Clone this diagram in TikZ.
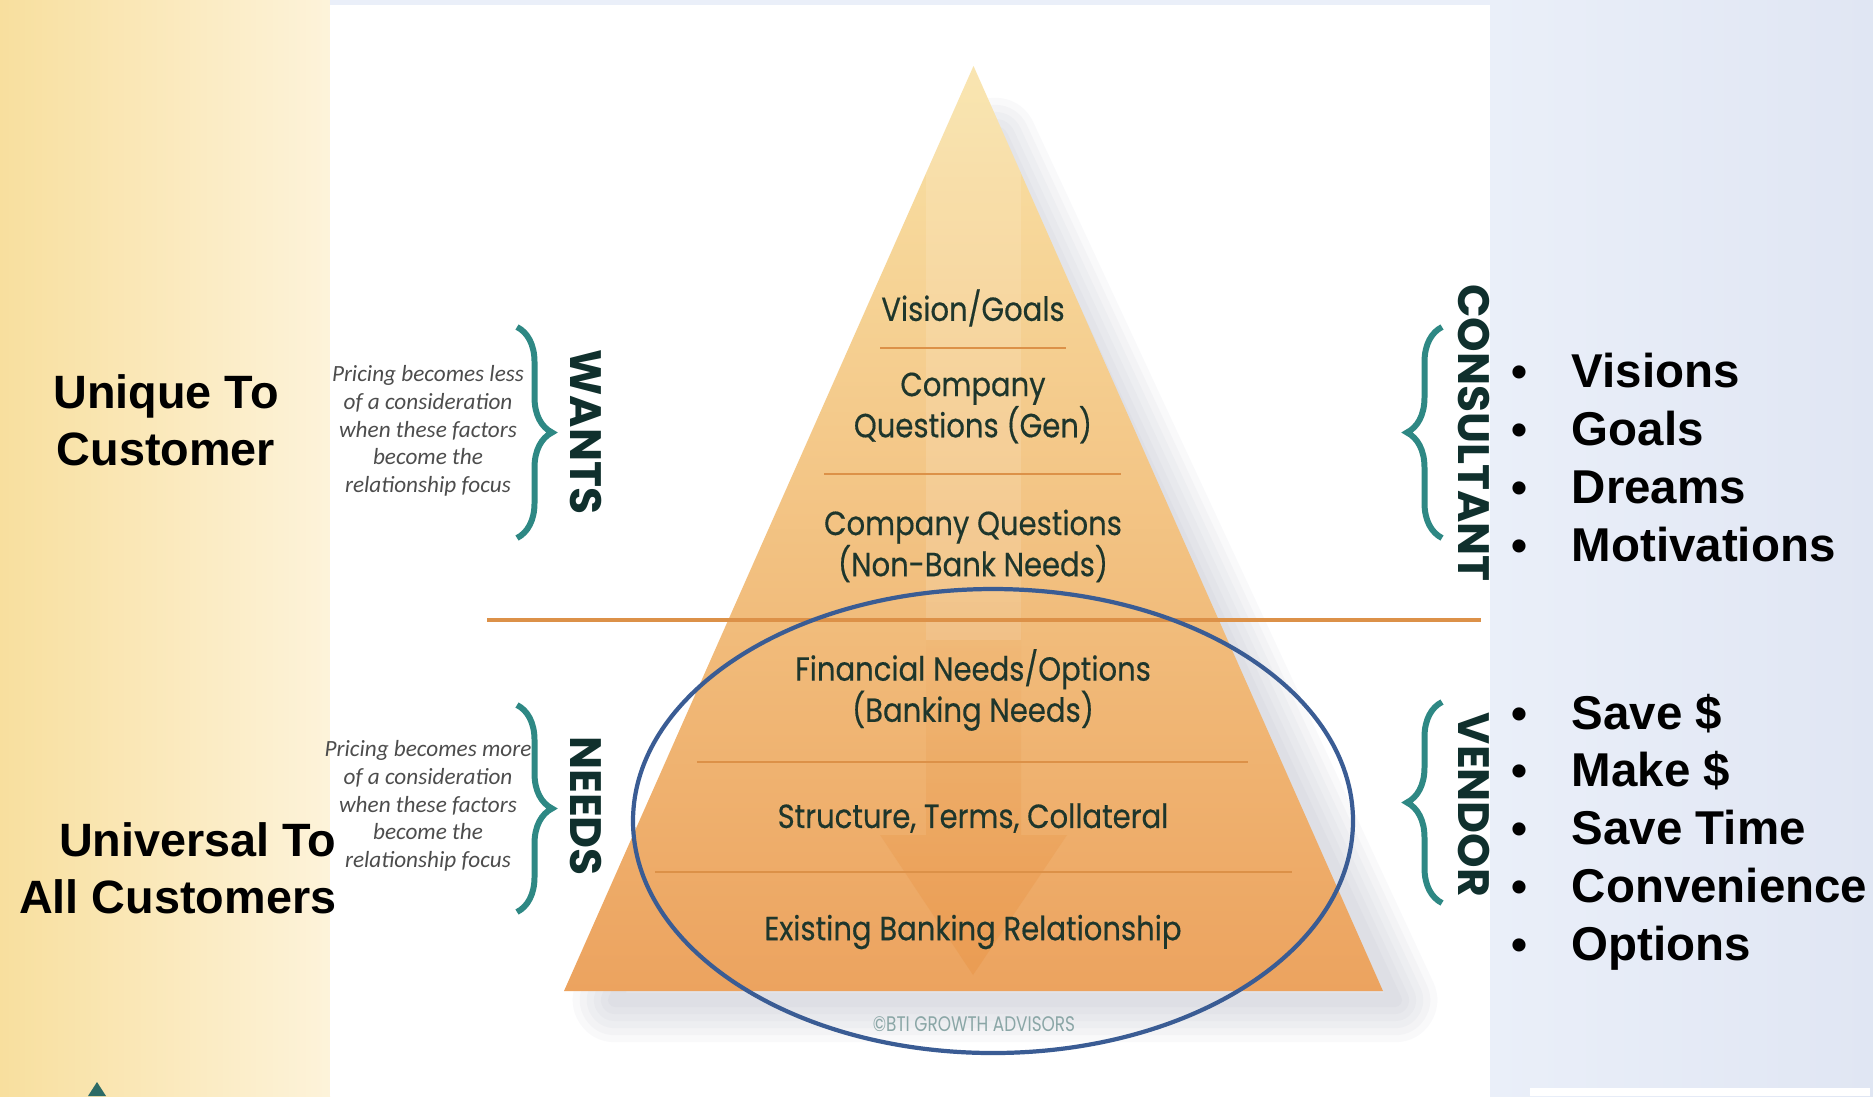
\documentclass[tikz,border=0pt]{standalone}
\usepackage{fontspec}
\setmainfont{Liberation Sans}
\newfontfamily\tierfont[FakeBold=0.4]{Poppins}
\newfontfamily\labelfont{Poppins}
\newfontfamily\notefont{Carlito}
\usetikzlibrary{decorations.pathreplacing,fadings}

\definecolor{leftpanel}{HTML}{F8DF9E}
\definecolor{leftpanelend}{HTML}{FDF3DA}
\definecolor{rightpanel}{HTML}{EAEFF9}
\definecolor{rightpanelend}{HTML}{E0E6F3}
\definecolor{pyrtop}{HTML}{F9E2A6}
\definecolor{pyrmid}{HTML}{F6D493}
\definecolor{pyrbottom}{HTML}{ECA35F}
\definecolor{arrowcolor}{HTML}{E8913F}
\definecolor{tierline}{HTML}{DC9148}
\definecolor{tiertext}{HTML}{1E362C}
\definecolor{bracecolor}{HTML}{2E8884}
\definecolor{sidetext}{HTML}{10302D}
\definecolor{notetext}{HTML}{4D4D4D}
\definecolor{ringcolor}{HTML}{3A5C94}
\definecolor{shadowcolor}{HTML}{8E91AA}
\definecolor{creditcolor}{HTML}{8AA6A6}
\definecolor{logocolor}{HTML}{2C6B66}

\tikzfading[name=fade down, top color=transparent!100, bottom color=transparent!15]

\begin{document}
\begin{tikzpicture}[x=0.01cm, y=-0.01cm,
    tier/.style={font=\tierfont\fontsize{9.5}{11.7}\selectfont, text=tiertext,
        align=center, xscale=0.87, inner sep=0pt},
    tierrule/.style={tierline, line width=0.6pt},
    note/.style={font=\notefont\itshape\fontsize{6.6}{7.9}\selectfont,
        text=notetext, align=center, inner sep=0pt},
    sidelabel/.style={font=\labelfont\bfseries\fontsize{12.5}{12.5}\selectfont,
        text=sidetext, rotate=-90, inner sep=0pt},
    curly/.style={bracecolor, line width=1.7pt, decorate,
        decoration={brace, amplitude=0.35cm}},
    bigtext/.style={font=\bfseries\fontsize{13.3}{16.2}\selectfont, inner sep=0pt},
    item/.style={font=\bfseries\fontsize{13.5}{16}\selectfont, anchor=base west, inner sep=0pt},
    dot/.style={font=\bfseries\fontsize{13}{16}\selectfont, anchor=base, inner sep=0pt}]

    \useasboundingbox (0,0) rectangle (1873,1096);

    % Panels
    \shade[left color=leftpanel, right color=leftpanelend] (0,0) rectangle (330,1096);
    \fill[rightpanel] (330,0) rectangle (1490,5);
    \fill[white] (330,5) rectangle (1490,1096);
    \fill[logocolor] (97,1082) -- (106,1096) -- (88,1096) -- cycle;

    % Pyramid corners
    \coordinate (apex) at (973.5,66);
    \coordinate (baseL) at (564,991);
    \coordinate (baseR) at (1383,991);

    % Soft shadow
    \foreach \w in {24,20,16,12,8,4}
        \draw[shadowcolor, line width=\w pt, opacity=0.05, line join=round]
            (995,140) -- (1395,1000) -- (615,1000) -- cycle;

    % Pyramid
    \shade[top color=pyrtop, middle color=pyrmid, bottom color=pyrbottom]
        (apex) -- (baseR) -- (baseL) -- cycle;
    \begin{scope}
        \clip (apex) -- (baseR) -- (baseL) -- cycle;
        \fill[white, opacity=0.13] (926,60) rectangle (1021,640);
        \fill[arrowcolor, path fading=fade down, opacity=0.45]
            (926,600) -- (1021,600) -- (1021,835) -- (1067,835) -- (973,975)
            -- (880,835) -- (926,835) -- cycle;
    \end{scope}

    % Tier rules
    \draw[tierrule] (880,348) -- (1066,348);
    \draw[tierrule] (824,474) -- (1121,474);
    \draw[tierrule] (697,762) -- (1248,762);
    \draw[tierrule] (655,872) -- (1292,872);
    \draw[tierline, line width=0.9pt] (487,620) -- (1481,620);

    % Tiers
    \node[tier] (vision) at (973,308) {Vision/Goals};
    \node[tier] (general) at (973,408) {Company\\Questions (Gen)};
    \node[tier] (nonbank) at (973,546) {Company Questions\\(Non-Bank Needs)};
    \node[tier] (banking) at (973,690) {Financial Needs/Options\\(Banking Needs)};
    \node[tier] (terms) at (973,818) {Structure, Terms, Collateral};
    \node[tier] (existing) at (973,932) {Existing Banking Relationship};
    \node[tier, xscale=0.92, font=\labelfont\fontsize{6}{7}\selectfont, text=creditcolor]
        (credit) at (974,1024) {\textcopyright BTI GROWTH ADVISORS};

    % Ring round the banking tiers
    \draw[ringcolor, line width=1.2pt] (993,821) ellipse [x radius=360, y radius=232];

    % Left notes and braces
    \node[note] (lessnote) at (428,431) {Pricing becomes less\\of a consideration\\when these factors\\become the\\relationship focus};
    \node[note] (morenote) at (428,806) {Pricing becomes more\\of a consideration\\when these factors\\become the\\relationship focus};
    \draw[curly] (517,327) -- (517,538);
    \draw[curly] (517,705) -- (517,912);
    \node[sidelabel] (wants) at (586,432) {WANTS};
    \node[sidelabel] (needs) at (586,806) {NEEDS};

    % Right braces
    \draw[curly] (1442,538) -- (1442,327);
    \draw[curly] (1442,903) -- (1442,702);
    \node[sidelabel] (consultant) at (1474,433) {CONSULTANT};
    \node[sidelabel] (vendor) at (1474,805) {VENDOR};

    % Right panel
    \shade[left color=rightpanel, right color=rightpanelend] (1490,0) rectangle (1873,1096);
    \fill[white] (1530,1088) rectangle (1870,1096);

    % Left captions
    \node[bigtext, align=center] (unique) at (166,420) {Unique To\\Customer};
    \node[bigtext, align=right, anchor=east] (universal) at (337,868) {Universal To\\All Customers};

    % Bullet lists
    \foreach \word [count=\i] in {Visions, Goals, Dreams, Motivations} {
        \node[dot] (wdot\i) at (1519,{387+58*(\i-1)}) {\textbullet};
        \node[item] (want\i) at (1571,{387+58*(\i-1)}) {\word};
    }
    \foreach \word [count=\i] in {Save \$, Make \$, Save Time, Convenience, Options} {
        \node[dot] (ndot\i) at (1519,{729+57.8*(\i-1)}) {\textbullet};
        \node[item] (need\i) at (1571,{729+57.8*(\i-1)}) {\word};
    }

\end{tikzpicture}
\end{document}
